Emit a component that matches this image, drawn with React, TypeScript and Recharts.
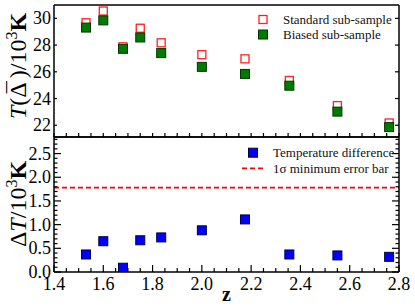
import React from 'react'
import { ScatterChart, Scatter, XAxis, YAxis, ReferenceLine } from 'recharts'

// redshift bins
const redshift = [1.53, 1.6, 1.68, 1.75, 1.835, 2.0, 2.175, 2.355, 2.55, 2.76]
// T(Delta) in 10^3 K
const standardT = [29.67, 30.55, 27.87, 29.26, 28.17, 27.28, 26.97, 25.35, 23.47, 22.17]
const biasedT = [29.31, 29.85, 27.72, 28.57, 27.4, 26.37, 25.84, 24.96, 23.02, 21.86]
// Delta T in 10^3 K
const tempDiff = [0.37, 0.65, 0.09, 0.67, 0.73, 0.88, 1.11, 0.37, 0.35, 0.32]
const minErrorBar = 1.78

const xMajorTicks = [1.4, 1.6, 1.8, 2.0, 2.2, 2.4, 2.6, 2.8]
const xAllTicks = [
  1.4, 1.45, 1.5, 1.55, 1.6, 1.65, 1.7, 1.75, 1.8, 1.85, 1.9, 1.95, 2.0, 2.05, 2.1, 2.15,
  2.2, 2.25, 2.3, 2.35, 2.4, 2.45, 2.5, 2.55, 2.6, 2.65, 2.7, 2.75, 2.8,
]
const topYTicks = [22, 24, 26, 28, 30]
const bottomYMajor = [0, 0.5, 1.0, 1.5, 2.0, 2.5]
const bottomYAll = [
  0, 0.1, 0.2, 0.3, 0.4, 0.5, 0.6, 0.7, 0.8, 0.9, 1.0, 1.1, 1.2, 1.3, 1.4, 1.5, 1.6, 1.7,
  1.8, 1.9, 2.0, 2.1, 2.2, 2.3, 2.4, 2.5, 2.6, 2.7, 2.8,
]

const seriesNames = ['Standard sub-sample', 'Biased sub-sample', 'Temperature difference', '1σ minimum error bar']

const X_DOMAIN = [1.4, 2.8]
const TOP_DOMAIN = [21.12, 31]
const BOTTOM_DOMAIN = [0, 2.85]

// keep font sizes integer: fractional sizes fall back to a sans face here
const FONT = 'Liberation Serif'

const standardData = redshift.map((z, i) => ({ z, t: standardT[i] }))
const biasedData = redshift.map((z, i) => ({ z, t: biasedT[i] }))
const diffData = redshift.map((z, i) => ({ z, d: tempDiff[i] }))

const isMajor = (v: number, majors: number[]) => majors.some((m) => Math.abs(m - v) < 1e-6)

const square = (size: number, fill: string, stroke: string, sw: number) => (props: any) => {
  const { cx, cy } = props
  return <rect x={cx - size / 2} y={cy - size / 2} width={size} height={size} fill={fill} stroke={stroke} strokeWidth={sw} />
}

// x ticks: dir -1 points up, +1 points down
const xTick = (dir: number, majorLen: number, minorLen: number, labels: boolean) => (props: any) => {
  const { x, y, payload } = props
  const major = isMajor(payload.value, xMajorTicks)
  const len = major ? majorLen : minorLen
  return (
    <g>
      <line x1={x} x2={x} y1={y} y2={y + dir * len} stroke="#000" strokeWidth={1.2} />
      {labels && major && (
        <text x={x} y={y + 18} textAnchor="middle" fontFamily={FONT} fontSize={18} fill="#000">
          {payload.value.toFixed(1)}
        </text>
      )}
    </g>
  )
}

// y ticks: dir +1 points right (left axis), -1 points left (right axis)
const yTick = (dir: number, majors: number[], majorLen: number, minorLen: number, fmt: ((v: number) => string) | null) => (props: any) => {
  const { x, y, payload } = props
  const major = isMajor(payload.value, majors)
  const len = major ? majorLen : minorLen
  return (
    <g>
      <line x1={x} x2={x + dir * len} y1={y} y2={y} stroke="#000" strokeWidth={1.2} />
      {fmt && major && (
        <text x={x - 3} y={y + 6} textAnchor="end" fontFamily={FONT} fontSize={18} fill="#000">
          {fmt(payload.value)}
        </text>
      )}
    </g>
  )
}

const axisLine = { stroke: '#000', strokeWidth: 1.5 }

const TopYLabel = () => (
  <text x={26} y={66} transform="rotate(-90 26 66)" textAnchor="middle" fontFamily={FONT} fontSize={24} fill="#000">
    <tspan fontStyle="italic">T</tspan>
    <tspan>(Δ</tspan>
    <tspan dx={-11} dy={-2}>¯</tspan>
    <tspan dx={3} dy={2}>)/10</tspan>
    <tspan fontSize={16} dy={-9}>3</tspan>
    <tspan fontWeight="bold" dy={9}>K</tspan>
  </text>
)

const BottomYLabel = () => (
  <text x={26} y={68} transform="rotate(-90 26 68)" textAnchor="middle" fontFamily={FONT} fontSize={24} fill="#000">
    <tspan>Δ</tspan>
    <tspan fontStyle="italic">T</tspan>
    <tspan>/10</tspan>
    <tspan fontSize={16} dy={-9}>3</tspan>
    <tspan fontWeight="bold" dy={9}>K</tspan>
  </text>
)

const ZLabel = (props: any) => {
  const { viewBox } = props
  return (
    <text x={viewBox.x + viewBox.width / 2} y={viewBox.y + 29} textAnchor="middle" fontFamily={FONT} fontWeight="bold" fontSize={20} fill="#000">
      z
    </text>
  )
}

const legendText = { fontFamily: FONT, fontSize: 13, fill: '#111' }

const TopLegend = () => (
  <svg width={150} height={32} style={{ display: 'block' }}>
    <rect x={6} y={3.5} width={8} height={8} fill="none" stroke="#ff2020" strokeWidth={1.3} />
    <text x={30} y={12} {...legendText}>{seriesNames[0]}</text>
    <rect x={5.5} y={18} width={9} height={9} fill="#007a00" stroke="#043404" strokeWidth={1} />
    <text x={30} y={27} {...legendText}>{seriesNames[1]}</text>
  </svg>
)

const BottomLegend = () => (
  <svg width={165} height={32} style={{ display: 'block' }}>
    <rect x={8.5} y={3.2} width={9} height={9} fill="#0000ff" stroke="#00004a" strokeWidth={1} />
    <text x={33} y={12} {...legendText}>{seriesNames[2]}</text>
    <line x1={2} x2={23} y1={23.3} y2={23.3} stroke="#ff0000" strokeWidth={1.8} strokeDasharray="5 3" />
    <text x={33} y={27.6} {...legendText}>{seriesNames[3]}</text>
  </svg>
)

export default function App() {
  return (
    <div style={{ position: 'absolute', left: 0, top: 0, width: 415, height: 308, background: '#fff' }}>
      <div style={{ position: 'absolute', left: 0, top: 0 }}>
        <ScatterChart width={415} height={138} margin={{ top: 4, right: 0, bottom: 0, left: 0 }}>
          <XAxis
            xAxisId={0}
            dataKey="z"
            type="number"
            domain={X_DOMAIN}
            allowDataOverflow
            ticks={xAllTicks}
            interval={0}
            height={1}
            tickSize={0}
            tickMargin={0}
            axisLine={axisLine}
            tickLine={false}
            tick={xTick(-1, 4, 4, false)}
          />
          <XAxis xAxisId="top" orientation="top" type="number" domain={X_DOMAIN} allowDataOverflow height={1} axisLine={axisLine} tickLine={false} tick={false} />
          <YAxis
            yAxisId={0}
            dataKey="t"
            type="number"
            domain={TOP_DOMAIN}
            allowDataOverflow
            ticks={topYTicks}
            interval={0}
            width={54}
            tickSize={0}
            tickMargin={0}
            axisLine={axisLine}
            tickLine={false}
            tick={yTick(1, topYTicks, 3, 3, (v) => String(v))}
            label={() => <TopYLabel />}
          />
          <YAxis
            yAxisId="r"
            orientation="right"
            type="number"
            domain={TOP_DOMAIN}
            allowDataOverflow
            ticks={topYTicks}
            interval={0}
            width={16}
            tickSize={0}
            tickMargin={0}
            axisLine={axisLine}
            tickLine={false}
            tick={yTick(-1, topYTicks, 4, 4, null)}
          />
          <Scatter name={seriesNames[0]} data={standardData} dataKey="t" shape={square(8, '#fff', '#ff2020', 1.3)} isAnimationActive={false} />
          <Scatter name={seriesNames[1]} data={biasedData} dataKey="t" shape={square(9, '#007a00', '#043404', 1)} isAnimationActive={false} />
        </ScatterChart>
      </div>
      <div style={{ position: 'absolute', left: 0, top: 136 }}>
        <ScatterChart width={415} height={172} margin={{ top: 0, right: 0, bottom: 0, left: 0 }}>
          <XAxis
            xAxisId={0}
            dataKey="z"
            type="number"
            domain={X_DOMAIN}
            allowDataOverflow
            ticks={xAllTicks}
            interval={0}
            height={36}
            tickSize={0}
            tickMargin={0}
            axisLine={axisLine}
            tickLine={false}
            tick={xTick(-1, 7, 4, true)}
            label={(p: any) => <ZLabel {...p} />}
          />
          <XAxis
            xAxisId="top"
            orientation="top"
            type="number"
            domain={X_DOMAIN}
            allowDataOverflow
            ticks={xAllTicks}
            interval={0}
            height={1}
            tickSize={0}
            tickMargin={0}
            axisLine={axisLine}
            tickLine={false}
            tick={xTick(1, 9, 4, false)}
          />
          <YAxis
            yAxisId={0}
            dataKey="d"
            type="number"
            domain={BOTTOM_DOMAIN}
            allowDataOverflow
            ticks={bottomYAll}
            interval={0}
            width={54}
            tickSize={0}
            tickMargin={0}
            axisLine={axisLine}
            tickLine={false}
            tick={yTick(1, bottomYMajor, 7, 3.5, (v) => v.toFixed(1))}
            label={() => <BottomYLabel />}
          />
          <YAxis
            yAxisId="r"
            orientation="right"
            type="number"
            domain={BOTTOM_DOMAIN}
            allowDataOverflow
            ticks={bottomYAll}
            interval={0}
            width={16}
            tickSize={0}
            tickMargin={0}
            axisLine={axisLine}
            tickLine={false}
            tick={yTick(-1, bottomYMajor, 7, 3.5, null)}
          />
          <ReferenceLine y={minErrorBar} stroke="#ff0000" strokeWidth={1.8} strokeDasharray="5 3" />
          <Scatter name={seriesNames[2]} data={diffData} dataKey="d" shape={square(9, '#0000ff', '#00004a', 1)} isAnimationActive={false} />
        </ScatterChart>
      </div>
      <div style={{ position: 'absolute', left: 253, top: 11.5 }}>
        <TopLegend />
      </div>
      <div style={{ position: 'absolute', left: 240, top: 145 }}>
        <BottomLegend />
      </div>
    </div>
  )
}
